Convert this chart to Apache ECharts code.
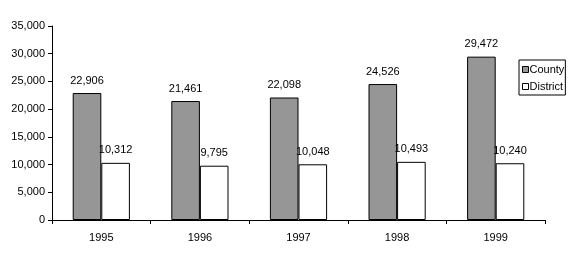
<!DOCTYPE html>
<html><head><meta charset="utf-8">
<script src="https://cdn.jsdelivr.net/npm/echarts@6/dist/echarts.min.js"></script>
<style>html,body{margin:0;padding:0;background:#fff}#c{width:576px;height:263px}</style>
</head><body><div id="c"></div>
<script>
const years = ['1995','1996','1997','1998','1999'];
const county = [22906, 21461, 22098, 24526, 29472];
const district = [10312, 9795, 10048, 10493, 10240];
const yTicks = [0, 5000, 10000, 15000, 20000, 25000, 30000, 35000];

const font = 'Liberation Sans, Arial, sans-serif';
const fmt = v => v.toLocaleString('en-US');
const chart = echarts.init(document.getElementById('c'), null, {renderer:'canvas'});
const lbl = {show:true, position:'top', distance:7, color:'#000', fontFamily:font, fontSize:11, formatter:p=>fmt(p.value)};
chart.setOption({
  animation:false,
  backgroundColor:'#fff',
  grid:{left:52, right:31, top:26, bottom:43, containLabel:false},
  legend:{
    orient:'vertical', left:519, top:60,
    padding:[4,1,3,3], itemGap:6, itemWidth:6, itemHeight:6,
    borderColor:'#000', borderWidth:1, borderRadius:0,
    icon:'rect',
    itemStyle:{borderColor:'#000', borderWidth:1},
    textStyle:{fontFamily:font, fontSize:11, color:'#000', padding:[0,0,0,-4]},
    data:['County','District']
  },
  xAxis:{
    type:'category', data:years,
    axisLine:{lineStyle:{color:'#000', width:1}},
    axisTick:{show:true, inside:false, length:4, lineStyle:{color:'#000'}},
    axisLabel:{color:'#000', fontFamily:font, fontSize:11, margin:12}
  },
  yAxis:{
    type:'value', min:yTicks[0], max:yTicks[yTicks.length-1], interval:5000,
    axisLine:{show:true, lineStyle:{color:'#000', width:1}},
    axisTick:{show:true, length:4, lineStyle:{color:'#000'}},
    splitLine:{show:false},
    axisLabel:{color:'#000', fontFamily:font, fontSize:11, margin:7, formatter:v=>fmt(v)}
  },
  series:[
    {name:'County', type:'bar', data:county, barWidth:'29%', barGap:'0%',
     itemStyle:{color:'#969696', borderColor:'#000', borderWidth:1}, label:lbl},
    {name:'District', type:'bar', data:district, barWidth:'29%',
     itemStyle:{color:'#fff', borderColor:'#000', borderWidth:1}, label:lbl}
  ]
});
</script></body></html>
